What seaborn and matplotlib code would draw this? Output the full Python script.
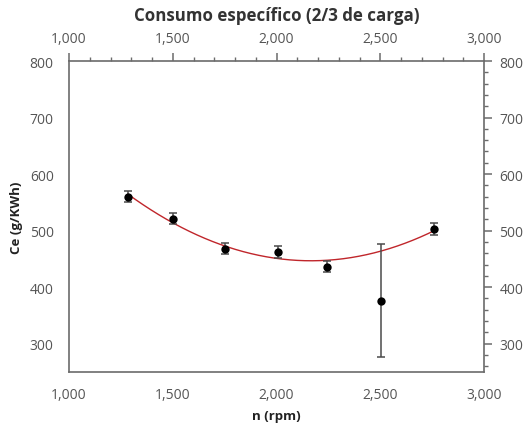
import numpy as np
import pandas as pd
import matplotlib
matplotlib.use("Agg")
import matplotlib.pyplot as plt
from matplotlib.ticker import MultipleLocator, FuncFormatter
import seaborn as sns

# Data
rpm = [1283, 1503, 1750, 2007, 2243, 2505, 2760]
ce = [560, 521, 468, 462, 436, 376, 503]
ce_err = [10, 10, 10, 10, 10, 100, 10]

title = "Consumo específico (2/3 de carga)"
xlabel = "n (rpm)"
ylabel = "Ce (g/KWh)"

sns.set_theme(style="white")
plt.rcParams['font.family'] = ['Open Sans', 'DejaVu Sans']

df = pd.DataFrame({"rpm": rpm, "ce": ce, "err": ce_err})

# Weighted quadratic fit
coef = np.polyfit(df["rpm"], df["ce"], 2, w=1.0 / df["err"])
xf = np.linspace(min(rpm), max(rpm), 200)
fit = pd.DataFrame({"rpm": xf, "ce": np.polyval(coef, xf)})

fig = plt.figure(figsize=(5.23, 4.31), dpi=100)
ax = fig.add_axes([69 / 523, 1 - 373 / 431, (484 - 69) / 523, (373 - 62) / 431])

sns.lineplot(data=fit, x="rpm", y="ce", ax=ax, color="#c0262b", linewidth=1.0, zorder=2)
ax.errorbar(df["rpm"], df["ce"], yerr=df["err"], fmt="none", ecolor="#4a4a4a",
            elinewidth=1.1, capsize=3, capthick=1.1, zorder=3)
sns.scatterplot(data=df, x="rpm", y="ce", ax=ax, color="black", s=36,
                edgecolor="black", linewidth=0, zorder=4)

ax.set_xlim(1000, 3000)
ax.set_ylim(250, 800)
ax.xaxis.set_major_locator(MultipleLocator(500))
ax.xaxis.set_minor_locator(MultipleLocator(100))
ax.yaxis.set_major_locator(MultipleLocator(100))
ax.yaxis.set_minor_locator(MultipleLocator(20))
ax.xaxis.set_major_formatter(FuncFormatter(lambda v, p: f"{int(v):,}"))
ax.yaxis.set_major_formatter(FuncFormatter(lambda v, p: f"{int(v)}" if v >= 300 else ""))

spine_col = "#6b6b6b"
for s in ax.spines.values():
    s.set_color(spine_col)
    s.set_linewidth(1.2)

ax.tick_params(axis="both", which="major", direction="out", length=6, width=1.1,
               color=spine_col, labelcolor="#555555", labelsize=10,
               top=True, right=True, labeltop=True, labelright=True)
ax.tick_params(axis="x", which="major", pad=5)
ax.tick_params(axis="y", which="major", pad=5)
ax.tick_params(axis="both", which="minor", direction="out", length=3, width=1.0,
               color=spine_col, top=True, right=True)

ax.set_xlabel(xlabel, fontsize=9.5, fontweight="bold", color="#222222", labelpad=5)
ax.set_ylabel(ylabel, fontsize=9.5, fontweight="bold", color="#222222", labelpad=5)
fig.text((69 + 484) / 2 / 523, 1 - 16 / 431, title, ha="center", va="center",
         fontsize=12.2, fontweight="bold", color="#333333")

fig.savefig("out.png", dpi=100)
